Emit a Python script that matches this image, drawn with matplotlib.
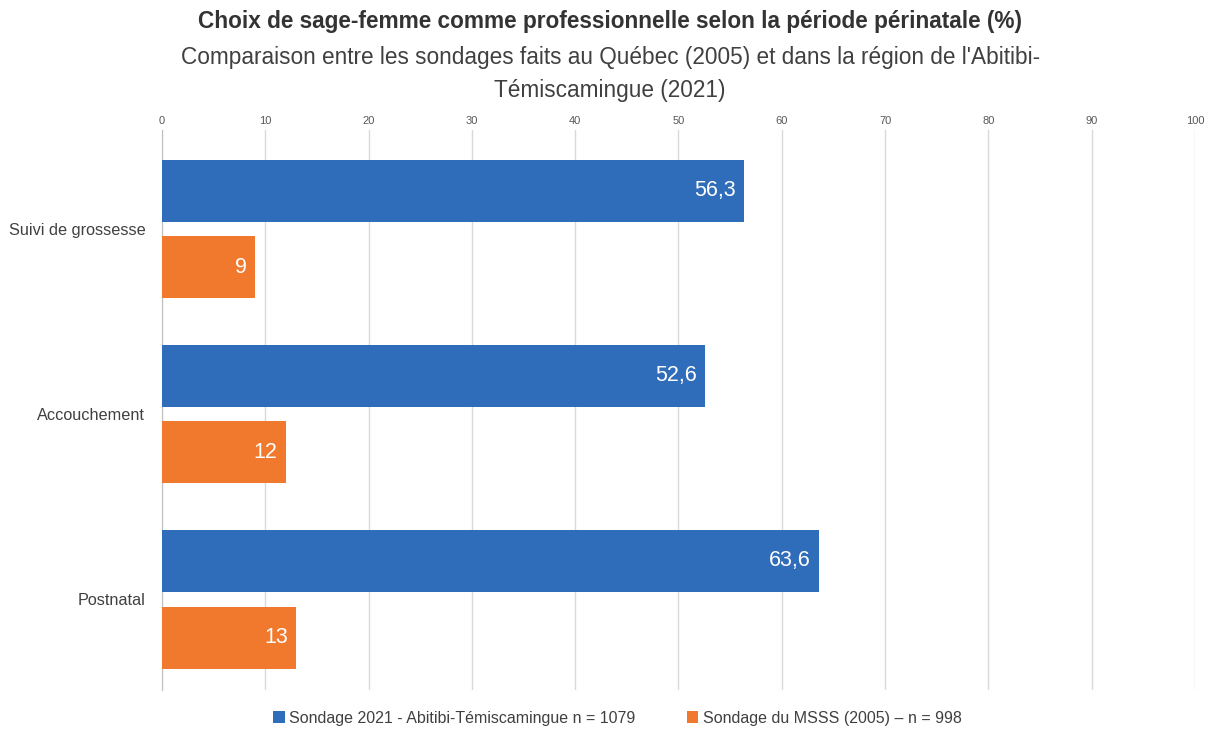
import numpy as np
import matplotlib.pyplot as plt

# --- Data ---
categories = ["Suivi de grossesse", "Accouchement", "Postnatal"]
series_2021 = [56.3, 52.6, 63.6]
series_2005 = [9, 12, 13]
label_2021 = "Sondage 2021 - Abitibi-Témiscamingue n = 1079"
label_2005 = "Sondage du MSSS (2005) – n = 998"
x_ticks = list(range(0, 101, 10))

BLUE = "#2F6CB9"
ORANGE = "#F0792E"
GRID = "#D9D9D9"
TXT = "#404040"

plt.rcParams['font.family'] = ['Liberation Sans', 'DejaVu Sans']

fig = plt.figure(figsize=(12.06, 7.29), dpi=100)
ax = fig.add_axes([0.1343, 0.0535, 0.8566, 0.7682])

y = np.arange(len(categories))
h = 0.335
off = 0.207
b1 = ax.barh(y - off, series_2021, height=h, color=BLUE, label=label_2021, zorder=3)
b2 = ax.barh(y + off, series_2005, height=h, color=ORANGE, label=label_2005, zorder=3)

def fmt(v):
    s = f"{v:g}"
    return s.replace(".", ",")

for bars, vals in [(b1, series_2021), (b2, series_2005)]:
    for rect, v in zip(bars, vals):
        ax.text(rect.get_width() - 0.8, rect.get_y() + rect.get_height() / 2, fmt(v),
                ha="right", va="center", color="white", fontsize=15.5, zorder=4)

ax.set_xlim(0, 100)
ax.set_ylim(2.49, -0.535)
ax.set_xticks(x_ticks)
ax.xaxis.tick_top()
ax.tick_params(axis="x", length=0, labelsize=8, labelcolor="#595959", pad=3)
ax.set_yticks(y)
ax.set_yticklabels(categories)
ax.tick_params(axis="y", length=0, labelsize=11.7, labelcolor=TXT, pad=12)
ax.grid(axis="x", color=GRID, linewidth=1, zorder=0)
for s in ["top", "right", "bottom"]:
    ax.spines[s].set_visible(False)
ax.spines["left"].set_color("#BFBFBF")

fig.text(0.506, 0.970, "Choix de sage-femme comme professionnelle selon la période périnatale (%)",
         ha="center", va="center", fontsize=16.3, fontweight="bold", color="#333333")
fig.text(0.506, 0.899, "Comparaison entre les sondages faits au Québec (2005) et dans la région de l'Abitibi-\nTémiscamingue (2021)",
         ha="center", va="center", fontsize=16.3, color=TXT, linespacing=1.55)

fig.legend(handles=[b1, b2], loc="center", bbox_to_anchor=(0.512, 0.015), ncol=2,
           frameon=False, fontsize=11.5, handlelength=0.7, handleheight=0.7,
           handletextpad=0.3, columnspacing=3.2, labelcolor=TXT)

fig.savefig("out.png", dpi=100)
